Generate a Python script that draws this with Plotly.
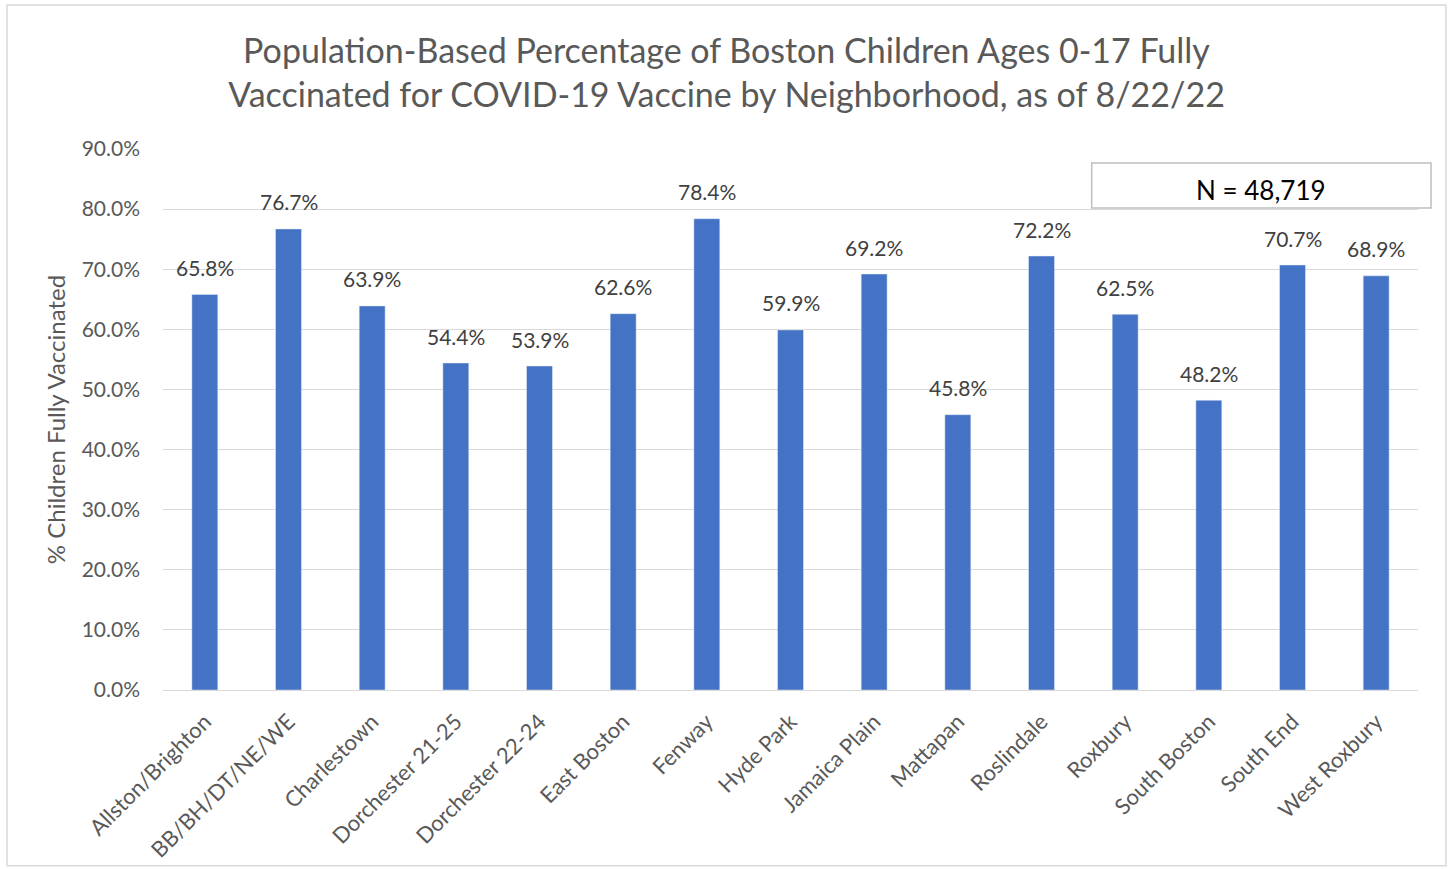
import plotly.graph_objects as go

neighborhoods = ["Allston/Brighton", "BB/BH/DT/NE/WE", "Charlestown", "Dorchester 21-25",
                 "Dorchester 22-24", "East Boston", "Fenway", "Hyde Park", "Jamaica Plain",
                 "Mattapan", "Roslindale", "Roxbury", "South Boston", "South End", "West Roxbury"]
pct_vaccinated = [65.8, 76.7, 63.9, 54.4, 53.9, 62.6, 78.4, 59.9, 69.2,
                  45.8, 72.2, 62.5, 48.2, 70.7, 68.9]
y_ticks = [0, 10, 20, 30, 40, 50, 60, 70, 80, 90]

font = "Lato, 'Open Sans', sans-serif"

fig = go.Figure()
fig.add_trace(go.Bar(
    x=neighborhoods, y=pct_vaccinated,
    marker_color="#4472C4", width=0.31,
))

# value labels sit a bit higher above the bars than plotly's outside text
for name, v in zip(neighborhoods, pct_vaccinated):
    fig.add_annotation(x=name, y=v, text=f"{v:.1f}%", showarrow=False,
                       yanchor="middle", yshift=27,
                       font=dict(size=21, color="#404040", family=font))

fig.update_layout(
    width=1453, height=869,
    margin=dict(l=163, r=35, t=149, b=179),
    plot_bgcolor="white", paper_bgcolor="white",
    showlegend=False,
    font=dict(family=font, color="#595959"),
    title=dict(
        text="Population-Based Percentage of Boston Children Ages 0-17 Fully<br>Vaccinated for COVID-19 Vaccine by Neighborhood, as of 8/22/22",
        x=0.5, xanchor="center", y=0.928, yanchor="middle",
        font=dict(size=34, color="#595959", family=font),
    ),
)

fig.update_yaxes(
    range=[0, 90], tickvals=y_ticks, ticktext=[f"{t:.1f}%" for t in y_ticks],
    showgrid=True, gridcolor="#d9d9d9", gridwidth=1.3,
    zeroline=False, ticks="", ticklabelstandoff=22, automargin=False,
    tickfont=dict(size=21, color="#595959"),
    title=dict(text="% Children Fully Vaccinated", font=dict(size=24, color="#595959"), standoff=9),
)
fig.update_xaxes(
    tickangle=-45, showline=True, linecolor="#d9d9d9", linewidth=1.3, automargin=False,
    tickfont=dict(size=22, color="#595959"), ticks="", ticklabelstandoff=9,
)

# outer chart border
fig.add_shape(type="rect", xref="paper", yref="paper",
              x0=-0.1243, x1=1.0223, y0=-0.325, y1=1.266,
              line=dict(color="#d9d9d9", width=1.5), fillcolor="rgba(0,0,0,0)")

# N box
fig.add_shape(type="rect", xref="paper", yref="paper",
              x0=0.740, x1=1.0104, y0=0.891, y1=0.974,
              line=dict(color="#bfbfbf", width=1.5), fillcolor="white")
fig.add_annotation(x=(0.740 + 1.0104) / 2, y=(0.891 + 0.974) / 2, xref="paper", yref="paper",
                   xanchor="center", yanchor="middle", yshift=-4,
                   text="N = 48,719", showarrow=False,
                   font=dict(size=26, color="black", family=font))

fig.write_html("out.html", config={"displayModeBar": False},
               post_script="document.body.style.margin='0';")
